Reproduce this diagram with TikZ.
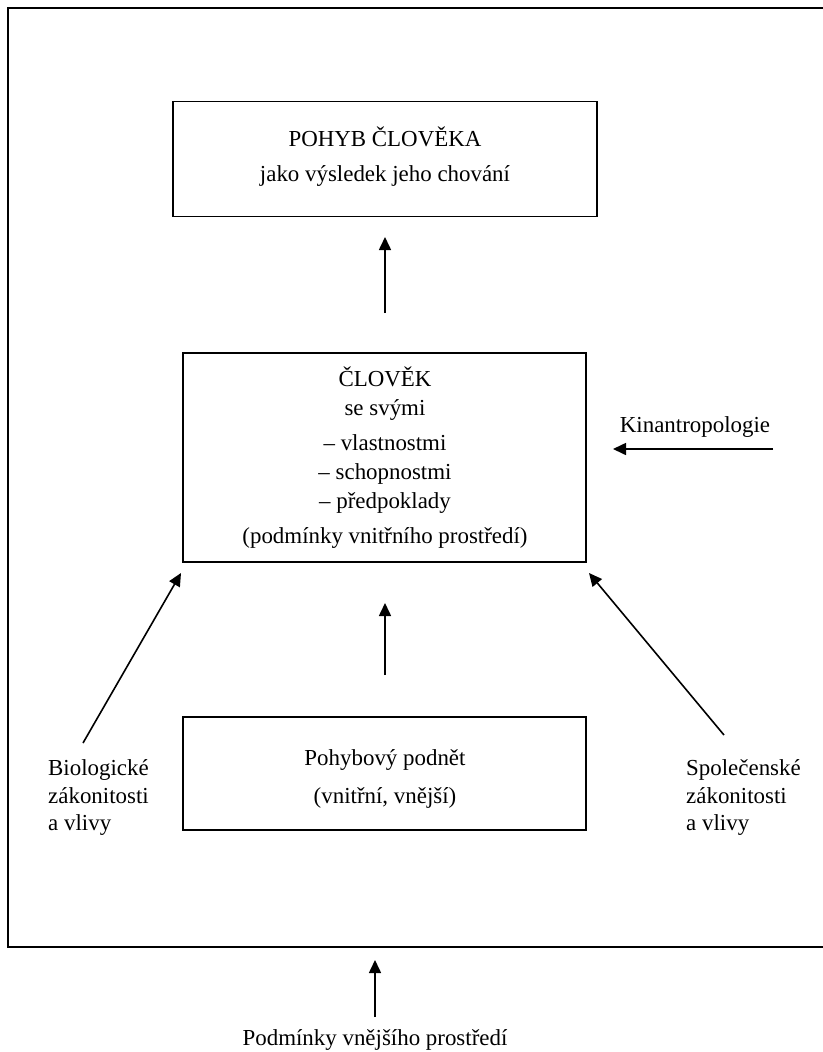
\documentclass[tikz,border=0pt]{standalone}
\usepackage{fontspec}
\setmainfont{Liberation Serif}
\usetikzlibrary{arrows.meta}
\begin{document}
\begin{tikzpicture}[x=1bp,y=-1bp,
  box/.style={draw, line width=1.3bp, inner sep=0pt},
  arr/.style={line width=1.6bp, -{Triangle[length=13bp,width=12bp]}},
  txt/.style={font=\fontsize{23}{27}\selectfont, inner sep=0pt, anchor=base},
  ltxt/.style={txt, anchor=base west}]
\useasboundingbox (0,0) rectangle (823,1052);
\draw[line width=1.7bp] (8,8) rectangle (840,947);
% boxes
\node[box, minimum width=424bp, minimum height=115bp] (top) at (385,159) {};
\node[box, minimum width=403bp, minimum height=209bp] (mid) at (384.5,457.5) {};
\node[box, minimum width=403bp, minimum height=113bp] (bot) at (384.5,773.5) {};
% texts
\node[txt] (t1) at (385,146.7) {POHYB ČLOVĚKA};
\node[txt] (t2) at (385,181.7) {jako výsledek jeho chování};
\node[txt] (m1) at (385,386) {ČLOVĚK};
\node[txt] (m2) at (385,415) {se svými};
\node[txt] (m3) at (385,450) {– vlastnostmi};
\node[txt] (m4) at (385,479) {– schopnostmi};
\node[txt] (m5) at (385,508) {– předpoklady};
\node[txt] (m6) at (385,543) {(podmínky vnitřního prostředí)};
\node[txt] (b1) at (385,765) {Pohybový podnět};
\node[txt] (b2) at (385,803) {(vnitřní, vnější)};
\node[ltxt] (l1) at (48,775) {Biologické};
\node[ltxt] (l2) at (48,803) {zákonitosti};
\node[ltxt] (l3) at (48,830) {a vlivy};
\node[ltxt] (r1) at (686,775) {Společenské};
\node[ltxt] (r2) at (686,803) {zákonitosti};
\node[ltxt] (r3) at (686,830) {a vlivy};
\node[txt] (kin) at (695,432) {Kinantropologie};
\node[txt] (pod) at (375,1045) {Podmínky vnějšího prostředí};
% connector ends
\coordinate (a1s) at (385,313); \coordinate (a1e) at (385,237);
\coordinate (a2s) at (385,675); \coordinate (a2e) at (385,603);
\coordinate (als) at (83,743); \coordinate (ale) at (181,573);
\coordinate (ars) at (724,735); \coordinate (are) at (589,573);
\coordinate (aks) at (773,449); \coordinate (ake) at (613,449);
\coordinate (abs) at (375,1017); \coordinate (abe) at (375,960);
\draw[arr] (a1s) -- (a1e);
\draw[arr] (a2s) -- (a2e);
\draw[arr] (als) -- (ale);
\draw[arr] (ars) -- (are);
\draw[arr] (aks) -- (ake);
\draw[arr] (abs) -- (abe);
\end{tikzpicture}
\end{document}
